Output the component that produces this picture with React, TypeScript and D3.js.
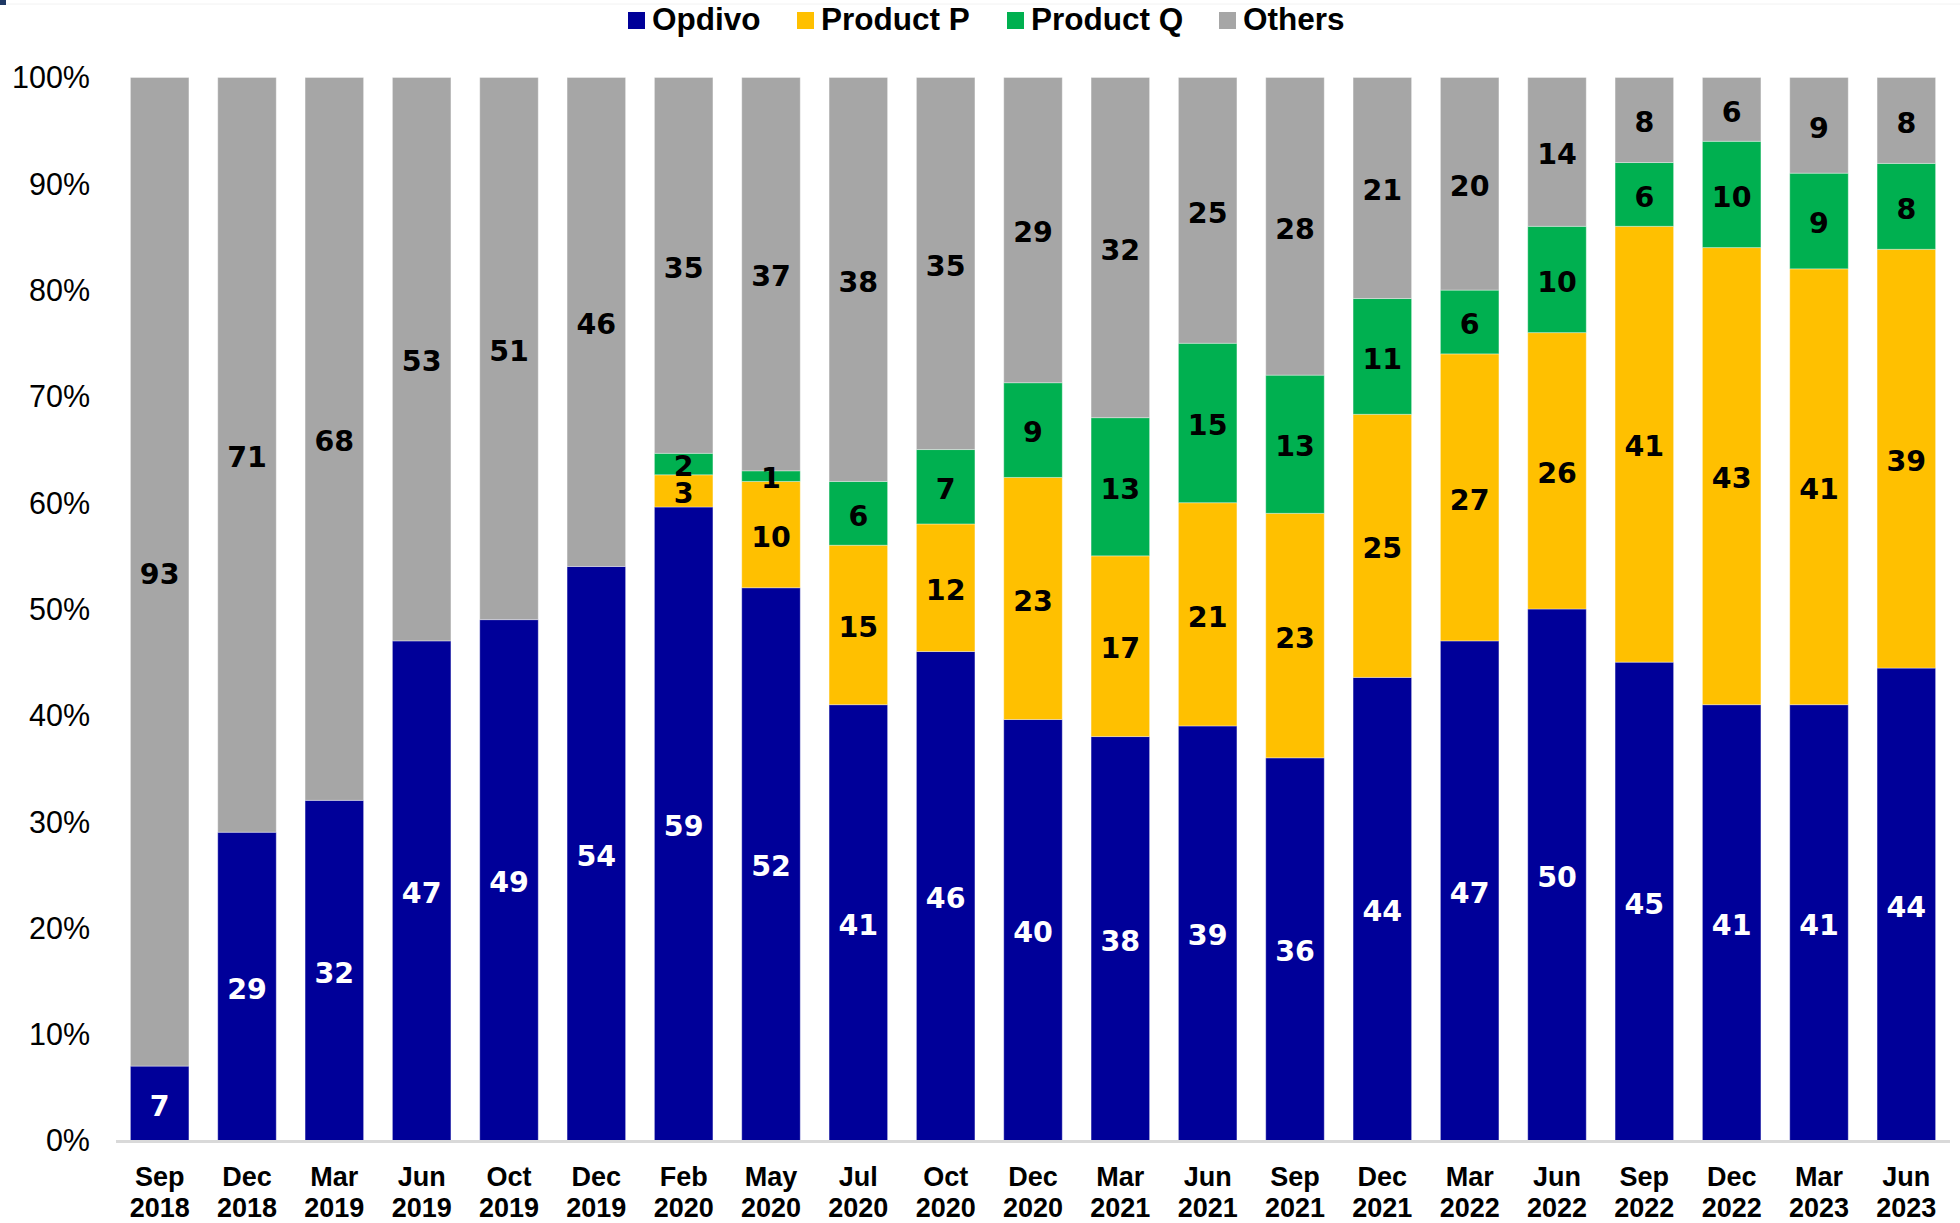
import * as d3 from 'd3';

const categories = [
  'Sep 2018', 'Dec 2018', 'Mar 2019', 'Jun 2019', 'Oct 2019', 'Dec 2019', 'Feb 2020',
  'May 2020', 'Jul 2020', 'Oct 2020', 'Dec 2020', 'Mar 2021', 'Jun 2021', 'Sep 2021',
  'Dec 2021', 'Mar 2022', 'Jun 2022', 'Sep 2022', 'Dec 2022', 'Mar 2023', 'Jun 2023',
];
const opdivo = [7, 29, 32, 47, 49, 54, 59, 52, 41, 46, 40, 38, 39, 36, 44, 47, 50, 45, 41, 41, 44];
const productP = [0, 0, 0, 0, 0, 0, 3, 10, 15, 12, 23, 17, 21, 23, 25, 27, 26, 41, 43, 41, 39];
const productQ = [0, 0, 0, 0, 0, 0, 2, 1, 6, 7, 9, 13, 15, 13, 11, 6, 10, 6, 10, 9, 8];
const others = [93, 71, 68, 53, 51, 46, 35, 37, 38, 35, 29, 32, 25, 28, 21, 20, 14, 8, 6, 9, 8];
const yTicks = [0, 0.1, 0.2, 0.3, 0.4, 0.5, 0.6, 0.7, 0.8, 0.9, 1];

const seriesNames = ['Opdivo', 'Product P', 'Product Q', 'Others'];
const seriesValues = [opdivo, productP, productQ, others];
const colors = ['#000099', '#FFC000', '#00B050', '#A6A6A6'];
const labelColors = ['#ffffff', '#000000', '#000000', '#000000'];

const width = 1960;
const height = 1223;
const x0 = 116;
const x1 = 1950;
const yTop = 77.5;
const yBottom = 1140.5;

export default function App() {
  const rows = categories.map((c, i) => {
    const r: any = { cat: c };
    seriesNames.forEach((s, k) => (r[s] = seriesValues[k][i]));
    return r;
  });

  const stack = d3.stack<any>().keys(seriesNames).offset(d3.stackOffsetExpand);
  const layers = stack(rows);

  const x = d3.scaleBand().domain(categories).range([x0, x1]).paddingInner(0.33).paddingOuter(0.165);
  const y = d3.scaleLinear().domain([0, 1]).range([yBottom, yTop]);

  const legendItems = [
    { name: 'Opdivo', sx: 628, tx: 652 },
    { name: 'Product P', sx: 797, tx: 821 },
    { name: 'Product Q', sx: 1007, tx: 1031 },
    { name: 'Others', sx: 1219, tx: 1243 },
  ];

  return (
    <svg
      width={width}
      height={height}
      style={{ position: 'absolute', left: 0, top: 0, background: '#fff' }}
      fontFamily="'Liberation Sans', Arial, sans-serif"
    >
      <rect x={0} y={0} width={6} height={5} fill="#1F3864" />
      <line x1={6} x2={width} y1={4} y2={4} stroke="#f2f2f2" strokeWidth={1} />

      {/* legend */}
      {legendItems.map((d, i) => (
        <g key={d.name}>
          <rect x={d.sx} y={12} width={17} height={17} fill={colors[i]} />
          <text x={d.tx} y={30} fontSize={31.5} fontWeight="bold" fill="#000">
            {d.name}
          </text>
        </g>
      ))}

      {/* y axis labels */}
      {yTicks.map((t) => (
        <text key={t} x={90} y={y(t)} dy="0.36em" textAnchor="end" fontSize={30.5} fill="#000">
          {d3.format('.0%')(t)}
        </text>
      ))}

      {/* bars */}
      {layers.map((layer, k) => (
        <g key={layer.key}>
          {layer.map((d, i) => {
            const h = y(d[0]) - y(d[1]);
            if (h <= 0) return null;
            return (
              <rect
                key={i}
                x={x(categories[i])}
                y={y(d[1])}
                width={x.bandwidth()}
                height={h}
                fill={colors[k]}
                stroke="#ffffff"
                strokeOpacity={0.35}
                strokeWidth={1}
              />
            );
          })}
        </g>
      ))}

      {/* data labels */}
      {layers.map((layer, k) => (
        <g key={'l' + layer.key}>
          {layer.map((d, i) => {
            const v = seriesValues[k][i];
            if (!v) return null;
            return (
              <text
                key={i}
                x={(x(categories[i]) as number) + x.bandwidth() / 2}
                y={y((d[0] + d[1]) / 2)}
                dy="0.43em"
                textAnchor="middle"
                fontFamily="'DejaVu Sans', Verdana, sans-serif"
                fontWeight="bold"
                fontSize={28.5}
                fill={labelColors[k]}
              >
                {v}
              </text>
            );
          })}
        </g>
      ))}

      {/* baseline */}
      <line x1={x0} x2={x1} y1={yBottom + 1} y2={yBottom + 1} stroke="#D9D9D9" strokeWidth={3} />

      {/* x labels */}
      {categories.map((c) => {
        const [m, yr] = c.split(' ');
        const cx = (x(c) as number) + x.bandwidth() / 2;
        return (
          <text key={c} x={cx} textAnchor="middle" fontSize={27} fontWeight="bold" fill="#000">
            <tspan x={cx} y={1186}>{m}</tspan>
            <tspan x={cx} y={1217}>{yr}</tspan>
          </text>
        );
      })}
    </svg>
  );
}
